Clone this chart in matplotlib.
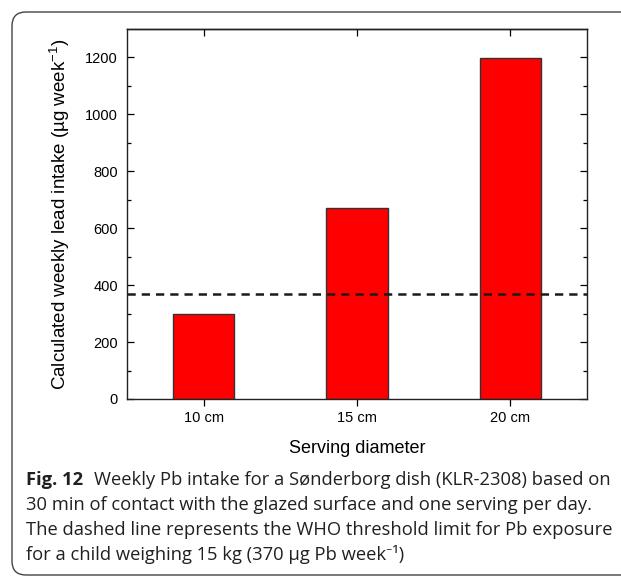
import numpy as np
import matplotlib
matplotlib.use("Agg")
import matplotlib.pyplot as plt
from matplotlib.patches import FancyBboxPatch
from matplotlib.transforms import IdentityTransform

# data
sizes = ["10 cm", "15 cm", "20 cm"]
intake = [300, 672, 1197]
who_limit = 370

caption_bold = "Fig. 12"
caption_lines = [
    "Weekly Pb intake for a Sønderborg dish (KLR-2308) based on",
    "30 min of contact with the glazed surface and one serving per day.",
    "The dashed line represents the WHO threshold limit for Pb exposure",
    "for a child weighing 15 kg (370 µg Pb week\u207b\u00b9)",
]

plt.rcParams["font.family"] = ["Liberation Sans", "DejaVu Sans"]
plt.rcParams["mathtext.default"] = "regular"

W, H = 621, 577
fig = plt.figure(figsize=(W / 100, H / 100), dpi=100)

# rounded frame around figure + caption
frame = FancyBboxPatch((12, 2), 660, 563, boxstyle="round,pad=0,rounding_size=14",
                       transform=IdentityTransform(), facecolor="none",
                       edgecolor="#444444", linewidth=1.0)
fig.add_artist(frame)

ax = fig.add_axes([127 / W, 1 - 399 / H, 460 / W, 370 / H])
x = np.arange(1, len(sizes) + 1)
ax.bar(x, intake, width=0.4, color="#ff0000", edgecolor="#333333", linewidth=1.0, zorder=2)
ax.axhline(who_limit, color="#1a1a1a", linewidth=1.8, linestyle=(0, (3.3, 2.4)), zorder=3)

ax.set_xlim(0.5, 3.5)
ax.set_ylim(0, 1300)
ax.set_xticks(x)
ax.set_xticklabels(sizes)
ax.set_yticks(np.arange(0, 1201, 200))
ax.set_yticks(np.arange(100, 1300, 200), minor=True)

ax.tick_params(axis="y", which="major", direction="in", length=5, width=0.9,
               right=True, labelsize=10.5, pad=6.5)
ax.tick_params(axis="y", which="minor", direction="in", length=3, width=0.9, right=True)
ax.tick_params(axis="x", which="major", direction="out", length=5, width=0.9,
               labelsize=10.5, pad=4)
ax.tick_params(axis="x", which="minor", bottom=False, top=False)

# top ticks pointing inward
sec = ax.secondary_xaxis("top")
sec.set_xticks(x)
sec.tick_params(direction="in", length=5, width=0.9, labeltop=False)
sec.spines["top"].set_linewidth(1.0)

for s in ax.spines.values():
    s.set_linewidth(1.0)
    s.set_color("#222222")

ax.set_ylabel("Calculated weekly lead intake (µg week$^{-1}$)", fontsize=13.5)
ax.yaxis.set_label_coords(-0.12, 0.5)
ax.set_xlabel("Serving diameter", fontsize=13, va="center")
ax.xaxis.set_label_coords(0.5, -0.135)

# caption
cap_font = ["Open Sans", "Noto Sans", "DejaVu Sans"]
cap_size = 13.2
cap_color = "#231f20"
baselines = [485, 510, 535, 560]
fig.canvas.draw()
r = fig.canvas.get_renderer()
tb = fig.text(26 / W, 1 - baselines[0] / H, caption_bold, family=cap_font, fontsize=cap_size,
              fontweight="bold", color=cap_color, va="baseline")
bb = tb.get_window_extent(r)
fig.text((bb.x1 + 11) / W, 1 - baselines[0] / H, caption_lines[0], family=cap_font,
         fontsize=cap_size, color=cap_color, va="baseline")
for line, yb in zip(caption_lines[1:], baselines[1:]):
    fig.text(26 / W, 1 - yb / H, line, family=cap_font, fontsize=cap_size,
             color=cap_color, va="baseline")

fig.savefig("out.png", dpi=100)
